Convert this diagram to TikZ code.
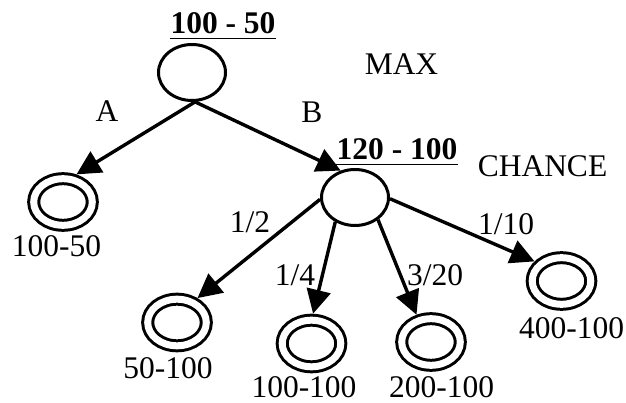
\documentclass[tikz,border=0pt]{standalone}
\usepackage{fontspec}
\setmainfont{Liberation Serif}
\usetikzlibrary{shapes.geometric,arrows.meta}
\tikzset{
  decision/.style={ellipse,draw,line width=3pt,inner sep=0pt,outer sep=1.5pt,minimum width=67pt,minimum height=56pt},
  leaf/.style={ellipse,draw,line width=3pt,double,double distance=7pt,inner sep=0pt,outer sep=6.5pt,minimum width=58.6pt,minimum height=46.6pt},
  txt/.style={inner sep=0pt,anchor=base,font=\fontsize{31.5pt}{37pt}\selectfont},
  val/.style={inner sep=0pt,anchor=base,font=\fontsize{31.5pt}{37pt}\selectfont\bfseries},
  arr/.style={line width=3.4pt,-{Triangle[length=24pt,width=24pt]}},
  uline/.style={line width=1.5pt}
}
\begin{document}
\begin{tikzpicture}[x=1pt,y=-1pt]
\useasboundingbox (0,0) rectangle (626,403);
% decision and chance nodes
\node[decision] (root) at (192,72.5) {};
\node[decision] (c) at (355,197.5) {};
% leaves
\node[leaf] (l0) at (63,202) {};
\node[leaf] (l1) at (177,322.5) {};
\node[leaf] (l2) at (311.5,343.5) {};
\node[leaf] (l3) at (431,342) {};
\node[leaf] (l4) at (561.5,281) {};
% value labels
\node[val] (v0) at (223,34) {100 - 50};
\node[val] (v1) at (397,160) {120 - 100};
\draw[uline] ([yshift=-4.5pt]v0.base west) -- ([yshift=-4.5pt]v0.base east);
\draw[uline] ([yshift=-4.5pt]v1.base west) -- ([yshift=-4.5pt]v1.base east);
% side labels
\node[txt] (max) at (401.5,75) {MAX};
\node[txt] (chance) at (542.5,177) {CHANCE};
% edge labels
\node[txt] (la) at (107,122) {A};
\node[txt] (lb) at (312,123) {B};
\node[txt] (p1) at (250,232.5) {1/2};
\node[txt] (p2) at (295,285) {1/4};
\node[txt] (p3) at (435,285) {3/20};
\node[txt] (p4) at (506,235) {1/10};
% leaf labels
\node[txt] (t0) at (56.5,257) {100-50};
\node[txt] (t1) at (168,378) {50-100};
\node[txt] (t2) at (304,397) {100-100};
\node[txt] (t3) at (441.5,397) {200-100};
\node[txt] (t4) at (571.5,338) {400-100};
% connectors
\draw[arr] (root.276) -- (l0.64);
\draw[arr] (root.276) -- (c.118);
\draw[arr] (c.183) -- (l1.50);
\draw[arr] (c.231) -- (l2.87);
\draw[arr] (c.316) -- (l3.118);
\draw[arr] (c.358) -- (l4.144);
\end{tikzpicture}
\end{document}
